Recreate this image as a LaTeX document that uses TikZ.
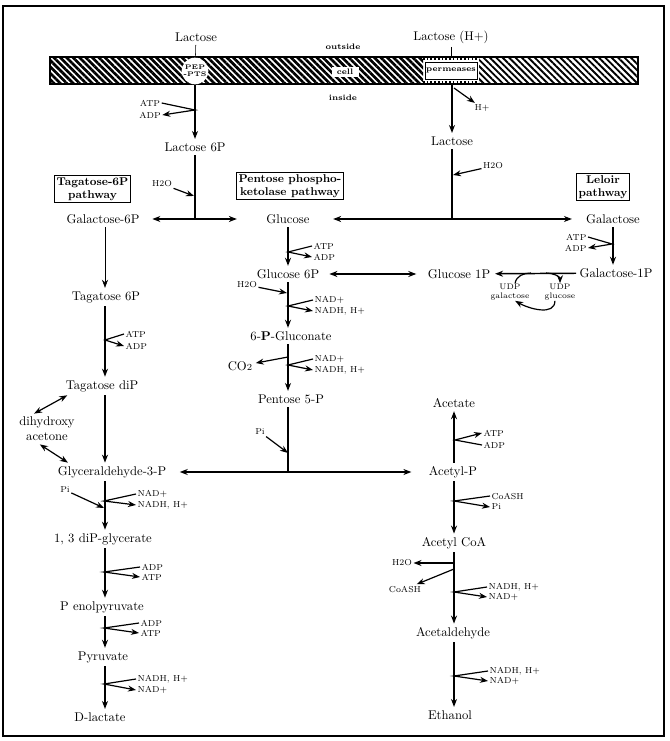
\documentclass[tikz,border=0pt]{standalone}
\usetikzlibrary{arrows.meta, patterns.meta}
\tikzset{
  >={Stealth[length=6pt,width=4.5pt]},
  met/.style={font=\fontsize{9.5}{11}\selectfont, inner sep=2.5pt},
  cof/.style={font=\fontsize{6.5}{7.5}\selectfont, inner sep=1pt},
  udp/.style={font=\fontsize{6}{6.5}\selectfont, align=center, inner sep=0.5pt},
  mem/.style={font=\bfseries\fontsize{6}{7}\selectfont, inner sep=1pt},
  pathbox/.style={draw, line width=0.9pt, align=center, inner sep=1.8pt,
    font=\bfseries\fontsize{8.5}{9.5}\selectfont},
  main/.style={line width=1.1pt},
  side/.style={line width=0.9pt},
}
\begin{document}
\begin{tikzpicture}[x=0.75pt, y=-0.75pt]
\useasboundingbox (0,0) rectangle (669,741);
\draw[line width=1.2pt] (3,6) rectangle (664,736);

% membrane
\fill[pattern={Lines[angle=-45,distance=3.4pt,line width=2pt]}] (50,57) rectangle (423,84);
\fill[pattern={Lines[angle=-45,distance=3.4pt,line width=1.4pt]}] (479,57) rectangle (638,84);
\draw[line width=0.8pt] (50,57) rectangle (638,84);
\draw[line width=2.2pt, dash pattern=on 1.2pt off 1.6pt] (423,58.5) -- (479,58.5) (423,82.5) -- (479,82.5);
\node[draw, fill=white, mem, minimum width=39pt, minimum height=13pt] (perm) at (451,70.5) {permeases};
\node[circle, fill=white, minimum size=20pt, inner sep=0pt, align=center,
  font=\bfseries\fontsize{5}{5.5}\selectfont] (pts) at (195,71) {PEP\\-PTS};
\node[fill=white, mem, inner xsep=4pt, inner ysep=2pt] (cell) at (345,72) {cell};
\node[mem] (outsd) at (343,47) {outside};
\node[mem] (insd) at (343,98) {inside};
\coordinate (pin) at (451,57);
\coordinate (pout) at (452,84);
\coordinate (hs) at (454,88);

% uptake
\node[met] (lac) at (196,37) {Lactose};
\node[met] (lach) at (451,37) {Lactose (H+)};
\draw (lac) -- (pts);
\draw (lach) -- (pin);
\node[met] (lac6p) at (195,147) {Lactose 6P};
\node[cof] (atp1) at (150,103) {ATP};
\node[cof] (adp1) at (150,115) {ADP};
\coordinate (j1) at (195,110);
\draw[->, main] (pts) -- (lac6p);
\draw[->, side] (atp1.east) -- (j1) -- (adp1.east);
\node[met] (lacin) at (452,141) {Lactose};
\node[cof] (hp) at (482,108) {H+};
\draw[->, main] (pout) -- (lacin);
\draw[->, side] (hs) -- (hp);

% pathway boxes
\node[pathbox] (tagbox) at (92.5,189) {Tagatose-6P\\pathway};
\node[pathbox] (pentbox) at (290,186) {Pentose phospho-\\ketolase pathway};
\node[pathbox] (lelbox) at (603,187) {Leloir\\pathway};

% hydrolysis
\node[met] (gal6p) at (103,219) {Galactose-6P};
\node[met] (glc) at (288,219) {Glucose};
\node[met] (gal) at (613,219) {Galactose};
\coordinate (jL) at (195,219);
\coordinate (jR) at (452,219);
\coordinate (wL) at (194,196);
\coordinate (wR) at (453,175);
\node[cof] (h2o1) at (162,184) {H2O};
\node[cof] (h2o2) at (493,166) {H2O};
\draw[main] (lac6p) -- (jL);
\draw[->, side] (h2o1) -- (wL);
\draw[<->, main, shorten <=7pt, shorten >=19.5pt] (gal6p) -- (glc);
\draw[main] (lacin) -- (jR);
\draw[->, side] (h2o2) -- (wR);
\draw[<->, main, shorten <=15pt, shorten >=8pt] (glc) -- (gal);

% columns
\coordinate (colL) at (105,300);
\coordinate (colM) at (288,300);
\coordinate (colR) at (454,300);

% Leloir pathway
\node[met] (gal1p) at (616,273) {Galactose-1P};
\node[met] (glc1p) at (459,274) {Glucose 1P};
\node[met] (glc6p) at (288,274) {Glucose 6P};
\node[cof, anchor=east] (atp7) at (588,237) {ATP};
\node[cof, anchor=east] (adp7) at (588,248) {ADP};
\coordinate (j16) at (612,244);
\draw[->, main] (gal) -- (gal |- gal1p.north);
\draw[->, side] (atp7.east) -- (j16) -- (adp7.east);
\draw[->, main, shorten >=1pt] (gal1p) -- (glc1p);
\draw[<->, main, shorten <=5pt, shorten >=6pt] (glc6p) -- (glc1p);
\node[udp] (udpgal) at (510,292) {UDP\\galactose};
\node[udp] (udpglc) at (560,292) {UDP\\glucose};
\coordinate (u1) at (531,273);
\coordinate (u2) at (546,273);
\draw[side] (udpgal.60) to[out=80, in=180] (u1);
\draw[->, side] (u2) to[out=0, in=90] (udpglc.north);
\draw[->, side] (udpglc.240) to[out=-90, in=-30] (udpgal.300);

% Pentose phosphoketolase pathway
\node[cof, anchor=west] (atp2) at (312,246) {ATP};
\node[cof, anchor=west] (adp2) at (312,257) {ADP};
\coordinate (j2) at (288,252);
\draw[->, main] (glc.south -| colM) -- (glc6p.north -| colM);
\draw[->, side] (atp2.west) -- (j2) -- (adp2.west);

\node[met] (gluc) at (291,336) {6-\textbf{P}-Gluconate};
\node[cof] (h2o3) at (247,285) {H2O};
\coordinate (w3) at (287,293);
\node[cof, anchor=west] (nad1) at (313,300) {NAD+};
\node[cof, anchor=west] (nadh1) at (313,311) {NADH, H+};
\coordinate (j3) at (288,306);
\draw[->, main] (glc6p.south -| colM) -- (gluc.north -| colM);
\draw[->, side] (h2o3) -- (w3);
\draw[->, side] (nad1.west) -- (j3) -- (nadh1.west);

\node[met] (pen5p) at (291,399) {Pentose 5-P};
\node[met] (co2) at (240,366) {CO{\scriptsize 2}};
\coordinate (j4a) at (288,357);
\coordinate (j4b) at (288,365);
\node[cof, anchor=west] (nad2) at (313,359) {NAD+};
\node[cof, anchor=west] (nadh2) at (313,370) {NADH, H+};
\draw[->, main] (gluc.south -| colM) -- (pen5p.north -| colM);
\draw[->, side] (j4a) -- (co2);
\draw[->, side] (nad2.west) -- (j4b) -- (nadh2.west);

\node[cof] (pi1) at (260,432) {Pi};
\coordinate (w5) at (288,453);
\coordinate (jP) at (288,472);
\draw[main] (pen5p.south -| colM) -- (jP);
\draw[->, side] (pi1) -- (w5);

% Tagatose-6P pathway
\node[met] (tag6p) at (106,297) {Tagatose 6P};
\node[met] (tagdip) at (102,386) {Tagatose diP};
\node[met, align=center, font=\fontsize{9.5}{11}\selectfont] (dha) at (47,429) {dihydroxy\\acetone};
\node[met] (gap) at (112,472) {Glyceraldehyde-3-P};
\draw[->] (gal6p.south -| colL) -- (tag6p.north -| colL);
\node[cof, anchor=west] (atp4) at (124,334) {ATP};
\node[cof, anchor=west] (adp4) at (124,346) {ADP};
\coordinate (j5) at (105,340);
\draw[->, main] (tag6p.south -| colL) -- (tagdip.north -| colL);
\draw[->, side] (atp4.west) -- (j5) -- (adp4.west);
\draw[->, main] (tagdip.south -| colL) -- (gap.north -| colL);
\draw[<->, side] (tagdip.195) -- (dha.130);
\draw[<->, side] (dha.245) -- (gap.168);

% glycolysis
\node[met] (dpg) at (103,539) {1, 3 diP-glycerate};
\node[met] (pep) at (102,607) {P enolpyruvate};
\node[met] (pyr) at (103,657) {Pyruvate};
\node[met] (dlac) at (100,717) {D-lactate};
\node[cof] (pi3) at (65,490) {Pi};
\coordinate (w6) at (104,508);
\node[cof, anchor=west] (nad5) at (136,494) {NAD+};
\node[cof, anchor=west] (nadh5) at (136,505) {NADH, H+};
\coordinate (j6) at (104,501);
\draw[->, main] (gap.south -| colL) -- (dpg.north -| colL);
\draw[->, side] (pi3) -- (w6);
\draw[->, side] (nad5.west) -- (j6) -- (nadh5.west);
\node[cof, anchor=west] (adp5) at (140,567) {ADP};
\node[cof, anchor=west] (atp5) at (140,577) {ATP};
\coordinate (j7) at (104,572);
\draw[->, main] (dpg.south -| colL) -- (pep.north -| colL);
\draw[->, side] (adp5.west) -- (j7) -- (atp5.west);
\node[cof, anchor=west] (adp6) at (139,623) {ADP};
\node[cof, anchor=west] (atp6) at (139,633) {ATP};
\coordinate (j8) at (104,628);
\draw[->, main] (pep.south -| colL) -- (pyr.north -| colL);
\draw[->, side] (adp6.west) -- (j8) -- (atp6.west);
\node[cof, anchor=west] (nadh6) at (136,679) {NADH, H+};
\node[cof, anchor=west] (nad6) at (136,690) {NAD+};
\coordinate (j9) at (104,684);
\draw[->, main] (pyr.south -| colL) -- (dlac.north -| colL);
\draw[->, side] (nadh6.west) -- (j9) -- (nad6.west);

% acetyl-P branch
\node[met] (acp) at (453,472) {Acetyl-P};
\draw[<->, main, shorten <=7.5pt, shorten >=10.5pt] (gap) -- (acp);
\node[met] (acet) at (454,403) {Acetate};
\node[cof, anchor=west] (atp3) at (482,433) {ATP};
\node[cof, anchor=west] (adp3) at (482,445) {ADP};
\coordinate (j10) at (455,440);
\draw[->, main] (acp.north -| colR) -- (acet.south -| colR);
\draw[->, side] (adp3.west) -- (j10) -- (atp3.west);

\node[met] (acoa) at (454,543) {Acetyl CoA};
\node[cof, anchor=west] (coash1) at (490,496) {CoASH};
\node[cof, anchor=west] (pi2) at (490,507) {Pi};
\coordinate (j11) at (454,501);
\draw[->, main] (acp.south -| colR) -- (acoa.north -| colR);
\draw[->, side] (coash1.west) -- (j11) -- (pi2.west);

\node[met] (acald) at (453,633) {Acetaldehyde};
\node[cof] (h2o4) at (402,563) {H2O};
\node[cof] (coash2) at (405,589) {CoASH};
\coordinate (j12) at (454,563);
\coordinate (j13) at (454,569);
\node[cof, anchor=west] (nadh3) at (487,587) {NADH, H+};
\node[cof, anchor=west] (nad3) at (487,597) {NAD+};
\coordinate (j14) at (454,592);
\draw[->, main] (acoa.south -| colR) -- (acald.north -| colR);
\draw[->, side] (j12) -- (h2o4);
\draw[->, side] (j13) -- (coash2);
\draw[->, side] (nadh3.west) -- (j14) -- (nad3.west);

\node[met] (eth) at (450,715) {Ethanol};
\node[cof, anchor=west] (nadh4) at (488,671) {NADH, H+};
\node[cof, anchor=west] (nad4) at (488,681) {NAD+};
\coordinate (j15) at (454,676);
\draw[->, main] (acald.south -| colR) -- (eth.north -| colR);
\draw[->, side] (nadh4.west) -- (j15) -- (nad4.west);
\end{tikzpicture}
\end{document}
